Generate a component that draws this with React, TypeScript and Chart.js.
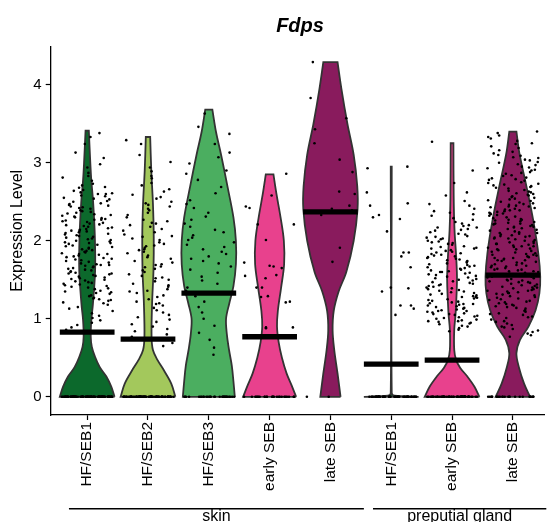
import React, { useEffect, useRef } from 'react';
import { Chart, registerables } from 'chart.js';

Chart.register(...registerables);

// ---------- data ----------
const titleText = 'Fdps';
const yTitle = 'Expression Level';
const categories = ['HF/SEB1', 'HF/SEB2', 'HF/SEB3', 'early SEB', 'late SEB', 'HF/SEB1', 'early SEB', 'late SEB'];
const groupLabels = ['skin', 'preputial gland'];
const groupFirst = [1, 6];
const groupLast = [5, 8];
const yTicks = [0, 1, 2, 3, 4];
const violinColors = ['#0c692c', '#a3c85c', '#4bae60', '#e8418d', '#891b5d', '#0c692c', '#e8418d', '#891b5d'];
const medians = [0.83, 0.74, 1.33, 0.77, 2.37, 0.42, 0.47, 1.56];

// violin outlines: expression levels and relative half-widths (1 = widest)
const skinHf1Levels = [0, 0.13, 0.26, 0.38, 0.51, 0.64, 0.77, 0.98, 1.19, 1.62, 2.05, 2.48, 2.78, 3.03, 3.41];
const skinHf1Widths = [1.0, 0.88, 0.7, 0.46, 0.29, 0.17, 0.13, 0.15, 0.21, 0.29, 0.28, 0.22, 0.15, 0.11, 0.06];
const skinHf2Levels = [0, 0.17, 0.34, 0.47, 0.6, 0.77, 1.2, 1.62, 2.05, 2.48, 2.9, 3.33];
const skinHf2Widths = [1.0, 0.85, 0.58, 0.35, 0.18, 0.13, 0.15, 0.2, 0.21, 0.18, 0.12, 0.08];
const skinHf3Levels = [0, 0.2, 0.4, 0.6, 0.8, 1.0, 1.2, 1.42, 1.7, 2.0, 2.3, 2.7, 3.1, 3.4, 3.68];
const skinHf3Widths = [0.95, 0.9, 0.84, 0.74, 0.66, 0.63, 0.75, 0.9, 0.99, 0.99, 0.9, 0.68, 0.45, 0.26, 0.13];
const skinEarlyLevels = [0, 0.15, 0.3, 0.5, 0.7, 0.9, 1.1, 1.4, 1.7, 2.0, 2.3, 2.6, 2.85];
const skinEarlyWidths = [0.97, 0.8, 0.62, 0.45, 0.33, 0.27, 0.3, 0.42, 0.53, 0.52, 0.4, 0.25, 0.14];
const skinLateLevels = [0, 0.3, 0.6, 0.85, 1.1, 1.35, 1.6, 2.0, 2.4, 2.7, 3.1, 3.5, 3.95, 4.29];
const skinLateWidths = [0.37, 0.26, 0.14, 0.08, 0.12, 0.3, 0.58, 0.85, 0.99, 0.98, 0.85, 0.62, 0.4, 0.26];
const pgHf1Levels = [0, 0.015, 0.05, 2.95];
const pgHf1Widths = [1.0, 0.12, 0.018, 0.018];
const pgEarlyLevels = [0, 0.13, 0.26, 0.37, 0.47, 0.6, 0.86, 1.07, 1.5, 1.8, 2.14, 2.56, 3.25];
const pgEarlyWidths = [1.0, 0.82, 0.56, 0.3, 0.15, 0.08, 0.08, 0.13, 0.18, 0.15, 0.09, 0.06, 0.05];
const pgLateLevels = [0, 0.17, 0.38, 0.56, 0.73, 0.9, 1.11, 1.33, 1.54, 1.84, 2.27, 2.69, 3.12, 3.4];
const pgLateWidths = [0.63, 0.41, 0.22, 0.13, 0.26, 0.57, 0.83, 0.97, 1.0, 0.93, 0.74, 0.5, 0.24, 0.13];

// cell expression values (non-zero cells) per group
const skinHf1Cells = [3.38,3.33,3.24,3.13,3.06,2.98,2.94,2.87,2.83,2.81,2.77,2.73,2.71,
2.69,2.68,2.65,2.64,2.61,2.6,2.6,2.57,2.55,2.54,2.53,2.5,2.48,2.47,2.45,2.44,2.42,2.41,2.39,2.38,2.37,2.35,2.34,2.33,2.31,2.3,2.29,2.28,
2.27,2.26,2.24,2.23,2.21,2.2,2.19,2.17,2.16,2.15,2.13,2.12,2.1,2.09,2.07,2.06,2.05,2.03,2.02,2.0,1.99,1.97,1.96,1.95,1.93,1.92,1.91,1.89,1.88,1.86,1.85,1.84,1.82,1.81,1.8,
1.78,1.77,1.76,1.74,1.73,1.71,1.7,1.69,1.67,1.66,1.64,1.63,1.62,1.6,1.59,1.57,1.56,1.55,1.53,1.52,1.5,1.49,1.48,1.46,1.45,
1.44,1.42,1.41,1.39,1.38,1.36,1.35,1.33,1.32,1.3,1.29,1.27,1.26,1.24,1.23,1.21,1.2,
1.18,1.15,1.13,1.1,1.07,1.04,1.01,0.98,0.95,0.92,0.89,0.86,
2.58,2.51,2.43,2.36,2.32,2.25,2.22,2.18,2.14,2.11,2.08,2.04,2.01,1.98,1.94,1.9,1.87,1.83,1.79,1.75,1.72,1.68,1.65,1.61,1.58,1.54,1.51,1.47,1.43,1.4,2.62,2.46,2.27,2.13,1.97,1.83,1.69,1.58,1.34,1.25];
const skinHf2Cells = [3.29,3.24,3.1,3.01,2.94,2.89,2.83,2.8,2.74,2.71,2.66,
2.63,2.59,2.56,2.54,2.5,2.48,2.44,2.41,2.39,2.36,2.33,2.3,2.27,2.25,2.23,2.2,
2.18,2.15,2.13,2.11,2.08,2.05,2.03,2.01,1.98,1.96,1.93,1.91,1.89,1.86,1.84,1.81,
1.79,1.77,1.74,1.72,1.69,1.67,1.64,1.62,1.6,1.57,1.55,1.52,1.5,1.48,1.45,1.43,1.41,
1.38,1.36,1.33,1.3,1.28,1.25,1.22,1.2,1.17,1.14,1.11,1.08,1.05,1.02,
0.99,0.96,0.93,0.9,0.87,0.84,0.8,0.77,0.73,0.69,0.65,
2.46,2.22,2.06,1.88,1.7,1.53,1.35,1.19,1.66,1.94];
const skinHf3Cells = [3.63,3.46,3.37,3.24,3.13,3.07,2.99,2.9,2.86,2.78,2.69,2.61,2.52,2.47,2.42,2.36,2.31,2.27,2.22,2.18,2.14,2.11,2.07,2.04,2.01,1.98,1.95,1.92,1.89,1.86,1.83,1.8,1.77,1.74,1.71,1.67,1.63,1.59,1.54,1.49,1.45,1.4,1.36,1.29,1.22,1.15,1.08,1.0,0.91,0.82,0.73,0.63,0.54];
const skinEarlyCells = [2.86,2.58,2.44,2.42,2.21,2.21,2.01,1.72,1.68,1.67,1.65,1.56,1.55,1.52,1.4,1.4,1.29,1.28,1.22,1.21,0.89,0.89,0.88];
const skinLateCells = [4.29,3.83,3.57,3.43,3.25,3.04,2.88,2.63,2.6,2.45,2.41,2.39,2.36,2.33,1.91,1.73];
const pgHf1Cells = [2.95,2.93,2.62,2.48,2.45,2.33,2.3,2.28,2.12,1.85,1.85,1.8,1.66,1.4,1.39,1.35,1.17,1.17,1.13,1.05];
const pgEarlyCells = [3.27,2.9,2.74,2.62,2.58,2.51,2.47,2.45,2.41,2.38,2.34,2.32,2.29,2.27,2.24,2.22,2.2,
2.19,2.17,2.17,2.14,2.13,2.11,2.09,2.08,2.06,2.05,2.03,2.02,2.0,1.99,1.97,1.96,1.95,1.93,1.92,1.9,1.9,
1.88,1.87,1.86,1.84,1.83,1.82,1.81,1.79,1.78,1.77,1.75,1.74,1.73,1.72,1.7,1.69,1.68,1.66,1.65,1.64,1.63,1.61,1.6,1.6,
1.58,1.57,1.56,1.55,1.54,1.52,1.51,1.5,1.49,1.48,1.47,1.46,1.44,1.43,1.42,1.41,1.4,1.39,1.38,1.37,1.35,1.34,1.33,1.32,1.31,1.3,
1.29,1.28,1.27,1.26,1.25,1.24,1.23,1.22,1.21,1.2,1.19,1.18,1.17,1.16,1.15,1.14,1.13,1.12,1.11,1.1,1.09,1.08,1.07,1.06,1.05,1.04,1.03,1.02,1.01,1.0,
0.99,0.98,0.97,0.96,0.95,0.94,0.93,0.91,0.9,0.88,0.86,0.84,
2.36,2.15,2.04,1.98,1.91,1.85,1.8,1.76,1.71,1.67,1.62,1.59,1.53,1.45,1.36,1.28,1.19,1.1,1.06,0.97];
const pgLateCells = [3.4,3.38,3.35,3.33,3.31,3.28,3.25,3.24,3.21,3.19,3.16,3.14,3.12,3.1,
3.09,3.07,3.06,3.04,3.03,3.01,3.0,2.98,2.97,2.95,2.94,2.93,2.91,2.9,2.88,2.87,2.86,2.84,2.83,2.81,2.8,
2.79,2.78,2.77,2.75,2.74,2.73,2.72,2.7,2.69,2.68,2.67,2.65,2.64,2.63,2.62,2.6,2.59,2.58,2.57,2.56,2.54,2.53,2.52,2.51,2.5,
2.49,2.48,2.47,2.46,2.45,2.44,2.43,2.42,2.41,2.4,2.39,2.38,2.37,2.36,2.35,2.34,2.33,2.32,2.31,2.3,2.29,2.28,2.27,2.26,2.25,2.24,2.23,2.22,2.21,2.2,
2.19,2.18,2.17,2.16,2.15,2.14,2.13,2.12,2.11,2.1,2.09,2.08,2.07,2.06,2.05,2.04,2.03,2.02,2.01,2.0,1.99,1.98,1.97,1.96,1.95,1.94,1.93,1.92,1.91,1.9,
1.89,1.88,1.87,1.86,1.85,1.84,1.83,1.82,1.81,1.8,1.79,1.78,1.77,1.76,1.75,1.74,1.73,1.72,1.71,1.7,1.69,1.68,1.67,1.66,1.65,1.64,1.63,1.62,1.61,1.6,
1.59,1.58,1.57,1.56,1.55,1.54,1.53,1.52,1.51,1.5,1.49,1.48,1.47,1.46,1.45,1.44,1.43,1.42,1.41,1.4,1.39,1.38,1.37,1.36,1.35,1.34,1.33,1.32,1.31,1.3,
1.29,1.28,1.27,1.26,1.24,1.23,1.22,1.21,1.19,1.18,1.17,1.15,1.14,1.13,1.11,1.1,1.09,1.07,1.06,1.05,1.03,1.02,1.01,
0.99,0.97,0.96,0.94,0.92,0.9,0.89,0.87,0.85,0.83,0.81,0.79,0.77,
2.71,2.55,2.44,2.35,2.27,2.18,2.1,2.03,1.96,1.89,1.82,1.75,1.68,1.61,1.54,1.47,1.4,1.33,1.25,1.16,2.61,2.39,2.22,2.06,1.93,1.78,1.63,1.49,1.36,1.2];
// number of cells with zero expression per group
const zeroCounts = [90, 80, 30, 25, 2, 50, 60, 25];

const violinLevels = [skinHf1Levels, skinHf2Levels, skinHf3Levels, skinEarlyLevels, skinLateLevels, pgHf1Levels, pgEarlyLevels, pgLateLevels];
const violinWidths = [skinHf1Widths, skinHf2Widths, skinHf3Widths, skinEarlyWidths, skinLateWidths, pgHf1Widths, pgEarlyWidths, pgLateWidths];
const cellValues = [skinHf1Cells, skinHf2Cells, skinHf3Cells, skinEarlyCells, skinLateCells, pgHf1Cells, pgEarlyCells, pgLateCells];

// ---------- layout constants ----------
const W = 548;
const H = 522;
const HALF_WIDTH = 0.45;
const JITTER_HALF = 0.42;
const FONT = '"Liberation Sans", Arial, Helvetica, sans-serif';

function jitter(i: number, c: number) {
  const s = Math.sin((i + 1) * 12.9898 + (c + 1) * 78.233) * 43758.5453;
  return (s - Math.floor(s) - 0.5) * 2 * JITTER_HALF;
}

function violinOutline(c: number) {
  const cx = c + 1;
  const L = violinLevels[c];
  const Wd = violinWidths[c];
  const n = L.length;
  const right = L.map((y, k) => ({ x: cx + Wd[k] * HALF_WIDTH, y }));
  const left = L.map((y, k) => ({ x: cx - Wd[k] * HALF_WIDTH, y })).reverse();
  return [right[0], ...right, right[n - 1], left[0], ...left, left[n - 1], right[0]];
}

const overlayPlugin = {
  id: 'overlay',
  afterDraw(chart: any) {
    const { ctx, scales } = chart;
    const x = scales.x;
    ctx.save();
    ctx.fillStyle = '#000';
    ctx.textAlign = 'center';
    ctx.textBaseline = 'middle';
    ctx.font = `bold italic 20px ${FONT}`;
    ctx.fillText(titleText, x.getPixelForValue(4.5), 26);

    ctx.strokeStyle = '#000';
    ctx.lineWidth = 1.5;
    ctx.font = `16px ${FONT}`;
    ctx.textBaseline = 'alphabetic';
    groupLabels.forEach((lab, g) => {
      const x1 = x.getPixelForValue(groupFirst[g] - 0.3);
      const x2 = x.getPixelForValue(groupLast[g] + 0.55);
      ctx.beginPath();
      ctx.moveTo(x1, 508.7);
      ctx.lineTo(x2, 508.7);
      ctx.stroke();
      ctx.fillText(lab, (x1 + x2) / 2, 521);
    });
    ctx.restore();
  },
};

export default function App() {
  const ref = useRef<HTMLCanvasElement | null>(null);

  useEffect(() => {
    if (!ref.current) return;
    Chart.defaults.font.family = FONT;

    const violinSets = categories.map((_, c) => ({
      type: 'line' as const,
      data: violinOutline(c),
      borderColor: '#333333',
      borderWidth: 1.8,
      backgroundColor: violinColors[c],
      fill: 'shape',
      tension: 0.35,
      pointRadius: 0,
      pointHoverRadius: 0,
      order: 3,
    }));

    const cellPoints: { x: number; y: number }[] = [];
    cellValues.forEach((vals, c) => {
      const all = vals.concat(new Array(zeroCounts[c]).fill(0));
      all.forEach((v, i) => cellPoints.push({ x: c + 1 + jitter(i, c), y: v }));
    });

    const pointSet = {
      type: 'scatter' as const,
      data: cellPoints,
      pointRadius: 1.3,
      pointBorderWidth: 0,
      pointBackgroundColor: '#000',
      backgroundColor: '#000',
      borderWidth: 0,
      order: 2,
    };

    const medianSets = medians.map((m, c) => ({
      type: 'line' as const,
      data: [
        { x: c + 1 - HALF_WIDTH, y: m },
        { x: c + 1 + HALF_WIDTH, y: m },
      ],
      borderColor: '#000',
      borderWidth: 5.3,
      borderCapStyle: 'butt',
      fill: false,
      pointRadius: 0,
      order: 1,
    }));

    const axisGrid = {
      display: true,
      drawOnChartArea: false,
      drawTicks: true,
      tickLength: 5,
      tickColor: '#000',
      tickWidth: 1.2,
    };
    const axisBorder = { display: true, color: '#000', width: 1.3 };

    const chart = new Chart(ref.current, {
      type: 'line',
      data: { datasets: [...medianSets, pointSet, ...violinSets] as any },
      options: {
        animation: false,
        responsive: false,
        events: [],
        layout: { padding: { top: 46.5, left: 0, right: 0, bottom: 0 } },
        plugins: {
          legend: { display: false },
          tooltip: { enabled: false },
          title: { display: false },
        },
        scales: {
          x: {
            type: 'linear',
            min: 0.4,
            max: 8.512,
            afterBuildTicks: (s: any) => {
              s.ticks = categories.map((_, i) => ({ value: i + 1 }));
            },
            afterFit: (s: any) => {
              s.height = H - 415;
            },
            ticks: {
              autoSkip: false,
              maxRotation: 90,
              minRotation: 90,
              padding: 2,
              color: '#000',
              font: { size: 15.5 },
              callback: (v: any) => categories[Math.round(Number(v)) - 1],
            },
            grid: axisGrid,
            border: axisBorder,
          },
          y: {
            type: 'linear',
            min: -0.233,
            max: 4.49,
            afterBuildTicks: (s: any) => {
              s.ticks = yTicks.map((v) => ({ value: v }));
            },
            afterFit: (s: any) => {
              s.width = 50.7;
            },
            ticks: { padding: 4, color: '#000', font: { size: 15 } },
            grid: axisGrid,
            border: axisBorder,
            title: {
              display: true,
              text: yTitle,
              color: '#000',
              font: { size: 16 },
              padding: { top: 8.4, bottom: 0 },
            },
          },
        },
      } as any,
      plugins: [overlayPlugin],
    });

    return () => chart.destroy();
  }, []);

  return (
    <div style={{ position: 'absolute', left: 0, top: 0, width: W, height: H, overflow: 'hidden', background: '#fff' }}>
      <canvas ref={ref} width={W} height={H} style={{ width: W, height: H, display: 'block' }} />
    </div>
  );
}
